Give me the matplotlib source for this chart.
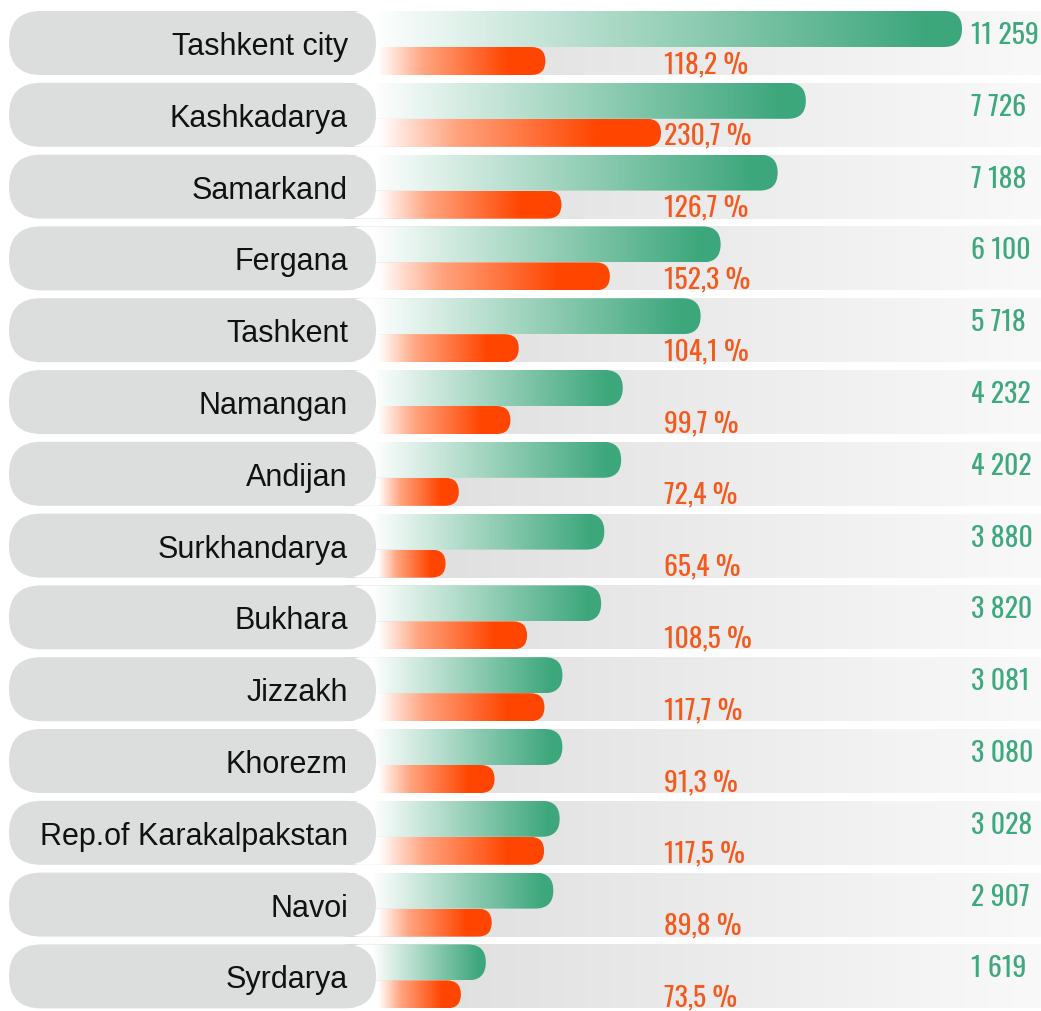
# -*- coding: utf-8 -*-
import numpy as np
import matplotlib
matplotlib.use("Agg")
import matplotlib.pyplot as plt
from matplotlib.patches import FancyBboxPatch
from matplotlib.colors import LinearSegmentedColormap
from matplotlib import font_manager

# --- DATA ---
regions = ["Tashkent city", "Kashkadarya", "Samarkand", "Fergana", "Tashkent",
           "Namangan", "Andijan", "Surkhandarya", "Bukhara", "Jizzakh",
           "Khorezm", "Rep.of Karakalpakstan", "Navoi", "Syrdarya"]
volume = [11259, 7726, 7188, 6100, 5718, 4232, 4202, 3880, 3820, 3081, 3080, 3028, 2907, 1619]
growth = [118.2, 230.7, 126.7, 152.3, 104.1, 99.7, 72.4, 65.4, 108.5, 117.7, 91.3, 117.5, 89.8, 73.5]

# --- LAYOUT ---
W, H = 1041, 1012
row_top0, pitch, row_h, green_h = 12, 71.8, 64, 36
band_x0 = 345
pill_x0, pill_x1 = 9, 376
green_x0, green_k, green_max = 401, 0.0524, 962     # bar end = x0 + k * value (capped)
orange_x0, orange_k, orange_max = 322, 1.89, 661

fig = plt.figure(figsize=(W / 100, H / 100), dpi=100)
ax = fig.add_axes([0, 0, 1, 1])

green_cmap = LinearSegmentedColormap.from_list("g", ["#ffffff", "#3da77c"])
orange_cmap = LinearSegmentedColormap.from_list("o", [(0, "#ffffff"), (0.35, "#ffa47f"), (1, "#ff4500")])
band_cmap = LinearSegmentedColormap.from_list("b", ["#dcdcdc", "#f9f9f9"])


def grad_bar(x_start, x_end, y0, h, fade0, full, cmap, z, rounded=True):
    style = f"round,pad=0,rounding_size={h / 2}" if rounded else "square,pad=0"
    patch = FancyBboxPatch((x_start, y0), x_end - x_start, h, boxstyle=style,
                           lw=0, fc="none", zorder=z)
    ax.add_patch(patch)
    xs = np.linspace(x_start, x_end, 400)
    t = np.clip((xs - fade0) / (full - fade0), 0, 1)
    im = ax.imshow(t[None, :], extent=(x_start, x_end, y0 + h, y0), cmap=cmap,
                   vmin=0, vmax=1, aspect="auto", interpolation="bilinear", zorder=z)
    im.set_clip_path(patch)


def pick_font(prefs, fallback="Liberation Sans"):
    names = {f.name for f in font_manager.fontManager.ttflist}
    for p in prefs:
        if p in names:
            return p
    return fallback


num_font = pick_font(["Oswald", "Bebas Neue", "Roboto Condensed", "Liberation Sans Narrow",
                      "Open Sans Condensed", "Arial Narrow", "DejaVu Sans Condensed"])

for i, (name, v, g) in enumerate(zip(regions, volume, growth)):
    top = row_top0 + i * pitch
    # background band
    grad_bar(band_x0, W, top, row_h, band_x0, W, band_cmap, 1, rounded=False)
    # green bar (volume)
    ge = min(green_x0 + green_k * v, green_max)
    grad_bar(band_x0, ge, top, green_h, 372, ge - 0.06 * (ge - 372), green_cmap, 2)
    # orange bar (growth)
    oe = min(orange_x0 + orange_k * g, orange_max)
    grad_bar(band_x0, oe, top + green_h, row_h - green_h, 378, oe - 0.22 * (oe - 378),
             orange_cmap, 2)
    # label pill
    ax.add_patch(FancyBboxPatch((pill_x0, top), pill_x1 - pill_x0, row_h,
                                boxstyle=f"round,pad=0,rounding_size={row_h / 2}",
                                fc="#dcdddd", ec="none", zorder=3))
    ax.text(348, top + 43, name, ha="right", va="baseline", fontsize=22,
            family="Liberation Sans", color="#111111", zorder=4)

# fit number font sizes to the room they have
renderer = fig.canvas.get_renderer()
probe = ax.text(0, 0, "11 259", fontsize=30, family=num_font, fontstretch="condensed")
w = probe.get_window_extent(renderer).width
num_size = min(30, 30 * 68 / w)
probe.set_text("118,2 %")
probe.set_fontsize(30)
w = probe.get_window_extent(renderer).width
pct_size = min(30, 30 * 84 / w)
probe.remove()

for i, (v, g) in enumerate(zip(volume, growth)):
    top = row_top0 + i * pitch
    ax.text(971, top + 32, f"{v:,}".replace(",", " "), ha="left", va="baseline",
            fontsize=num_size, family=num_font, fontstretch="condensed",
            color="#3ea87e", zorder=4)
    ax.text(664, top + 61, f"{g:.1f} %".replace(".", ","), ha="left", va="baseline",
            fontsize=pct_size, family=num_font, fontstretch="condensed",
            color="#f4591d", zorder=4)

ax.set_xlim(0, W)
ax.set_ylim(H, 0)
ax.axis("off")

plt.savefig("out.png", dpi=100)
